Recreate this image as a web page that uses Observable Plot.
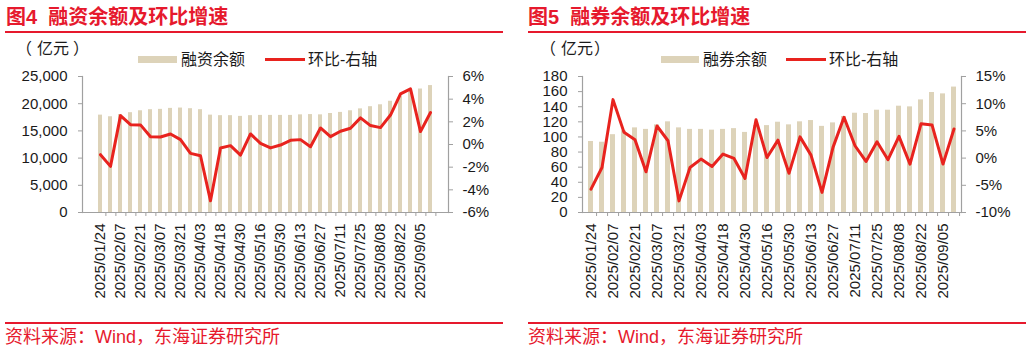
<!DOCTYPE html>
<html>
<head>
<meta charset="utf-8">
<script src="https://cdn.jsdelivr.net/npm/d3@7"></script>
<script src="https://cdn.jsdelivr.net/npm/@observablehq/plot@0.6"></script>
<style>
  html, body { margin: 0; padding: 0; background: #fff; }
  body { width: 1032px; height: 352px; position: relative; overflow: hidden;
         font-family: "Liberation Sans", Arial, "Noto Sans CJK SC", sans-serif; color: #1a1a1a; }
  .abs { position: absolute; white-space: nowrap; }
  .title { font-size: 20px; line-height: 20px; font-weight: bold; color: #e6192d; }
  .rule { height: 2px; background: #e6192d; }
  .unit { font-size: 16px; line-height: 16px; }
  .leg { font-size: 16px; line-height: 16px; }
  .src { font-size: 18px; line-height: 18px; color: #e6192d; }
  .sw-bar { height: 7px; background: #ddd3b9; }
  .sw-line { height: 3px; background: #e8231e; }
  .chart { position: absolute; top: 65px; }
</style>
</head>
<body>
<div class="abs title" style="left:6px;top:7px;">图4&nbsp;&nbsp;融资余额及环比增速</div>
<div class="abs rule" style="left:5px;top:31px;width:498px;"></div>
<div class="abs unit" style="left:16px;top:41px;">（</div>
<div class="abs unit" style="left:37px;top:41px;">亿元</div>
<div class="abs unit" style="left:73px;top:41px;">）</div>
<div class="abs sw-bar" style="left:138px;top:56px;width:39px;"></div>
<div class="abs leg" style="left:181px;top:52px;">融资余额</div>
<div class="abs sw-line" style="left:265px;top:58px;width:40px;"></div>
<div class="abs leg" style="left:308px;top:52px;">环比-右轴</div>
<div class="abs rule" style="left:5px;top:322px;width:498px;"></div>
<div class="abs src" style="left:5px;top:328px;">资料来源：Wind，东海证券研究所</div>

<div class="abs title" style="left:528px;top:7px;">图5&nbsp;&nbsp;融券余额及环比增速</div>
<div class="abs rule" style="left:528px;top:31px;width:498px;"></div>
<div class="abs unit" style="left:540px;top:41px;">（</div>
<div class="abs unit" style="left:561px;top:41px;">亿元</div>
<div class="abs unit" style="left:594px;top:41px;">）</div>
<div class="abs sw-bar" style="left:661px;top:56px;width:38px;"></div>
<div class="abs leg" style="left:703px;top:52px;">融券余额</div>
<div class="abs sw-line" style="left:786px;top:58px;width:40px;"></div>
<div class="abs leg" style="left:829px;top:52px;">环比-右轴</div>
<div class="abs rule" style="left:528px;top:322px;width:498px;"></div>
<div class="abs src" style="left:528px;top:328px;">资料来源：Wind，东海证券研究所</div>

<div id="c1" class="chart" style="left:0px;"></div>
<div id="c2" class="chart" style="left:516px;"></div>

<script>
const dates = ["2025/01/24","2025/01/27","2025/02/07","2025/02/14","2025/02/21","2025/02/28","2025/03/07","2025/03/14","2025/03/21","2025/03/28","2025/04/03","2025/04/11","2025/04/18","2025/04/25","2025/04/30","2025/05/09","2025/05/16","2025/05/23","2025/05/30","2025/06/06","2025/06/13","2025/06/20","2025/06/27","2025/07/04","2025/07/11","2025/07/18","2025/07/25","2025/08/01","2025/08/08","2025/08/15","2025/08/22","2025/08/29","2025/09/05","2025/09/12"];

// 融资余额 (亿元)
const finBalance = [17900,17600,18000,18350,18700,18900,18960,19140,19200,19080,18900,17900,17800,17800,17670,17800,17850,17850,17850,17850,17950,18000,17950,18200,18400,18700,19050,19450,19800,20450,21400,22400,22700,23330];
// 融资余额环比 (%)
const finChange = [-0.9,-1.93,2.55,1.75,1.73,0.69,0.66,0.93,0.43,-0.78,-0.99,-4.97,-0.31,-0.1,-0.93,0.93,0.1,-0.3,-0.05,0.37,0.43,-0.2,1.46,0.69,1.17,1.43,2.35,1.67,1.49,2.6,4.47,4.91,1.14,2.82];

// 融券余额 (亿元)
const secBalance = [94,93,103,108,112,110,116,120,112,110,110,109,110,111,106,115,115,119.5,116,120,121.7,114,118.6,127,131.4,131,135.4,135.4,140.7,139.8,149,158.8,157,166];
// 融券余额环比 (%)
const secChange = [-5.7,-1.72,10.75,4.73,3.38,-2.52,5.9,3.19,-7.86,-1.72,-0.18,-1.54,0.74,-0.06,-3.75,7.06,0.1,3.3,-2.8,3.9,0.55,-6.3,1.97,7.5,2.27,-0.61,3.0,-0.3,4.0,-1.1,6.3,6.1,-1.1,5.35];

const leftTicks1 = [0,5000,10000,15000,20000,25000];
const rightTicks1 = [-6,-4,-2,0,2,4,6];
const leftTicks2 = [0,20,40,60,80,100,120,140,160,180];
const rightTicks2 = [-10,-5,0,5,10,15];

const BAR = "#ddd3b9", LINE = "#e8231e", AXIS = "#a0a0a0", TXT = "#1a1a1a";

function makeChart({bal, pct, leftTicks, rightTicks, leftFmt, marginLeft, marginRight}) {
  const W = 516, H = 245;
  const yMax = leftTicks[leftTicks.length - 1];
  const toY = d3.scaleLinear([rightTicks[0], rightTicks[rightTicks.length - 1]], [0, yMax]);
  const data = dates.map((d, i) => ({d, v: bal[i], p: pct[i]}));
  const step = (W - marginLeft - marginRight) / dates.length;
  return Plot.plot({
    width: W, height: H,
    marginTop: 11, marginBottom: 98, marginLeft, marginRight,
    style: {fontFamily: '"Liberation Sans", Arial, sans-serif', fontSize: "15px", color: TXT, background: "transparent", overflow: "visible"},
    x: {type: "band", domain: dates, paddingInner: 0.58, paddingOuter: 0.29, axis: null},
    y: {domain: [0, yMax], axis: null},
    marks: [
      Plot.barY(data, {x: "d", y: "v", fill: BAR}),
      Plot.line(data, {x: "d", y: r => toY(r.p), stroke: LINE, strokeWidth: 3, strokeLinejoin: "round"}),
      Plot.ruleY([0], {stroke: AXIS, strokeWidth: 1.2}),
      Plot.frame({anchor: "left", stroke: AXIS, strokeWidth: 1.2}),
      Plot.frame({anchor: "right", stroke: AXIS, strokeWidth: 1.2}),
      Plot.axisY(leftTicks, {anchor: "left", label: null, tickSize: 4, tickPadding: 11, tickFormat: leftFmt, stroke: AXIS, fill: TXT}),
      Plot.axisY(rightTicks.map(t => toY(t)), {anchor: "right", label: null, tickSize: 4, tickPadding: 10, stroke: AXIS, fill: TXT,
        tickFormat: v => Math.round(toY.invert(v)) + "%"}),
      Plot.axisX(dates.filter((d, i) => i % 2 === 0), {anchor: "bottom", label: null, tickSize: 0, tickPadding: 11, tickRotate: -90, fill: TXT, tickFormat: d => d}),
      Plot.axisX(dates, {anchor: "bottom", label: null, tickSize: 4, tickFormat: () => "", dx: step / 2, stroke: AXIS})
    ]
  });
}

document.getElementById("c1").appendChild(makeChart({
  bal: finBalance, pct: finChange, leftTicks: leftTicks1, rightTicks: rightTicks1,
  leftFmt: d3.format(","), marginLeft: 82, marginRight: 68
}));
document.getElementById("c2").appendChild(makeChart({
  bal: secBalance, pct: secChange, leftTicks: leftTicks2, rightTicks: rightTicks2,
  leftFmt: d => String(d), marginLeft: 66, marginRight: 71
}));
</script>
</body>
</html>
